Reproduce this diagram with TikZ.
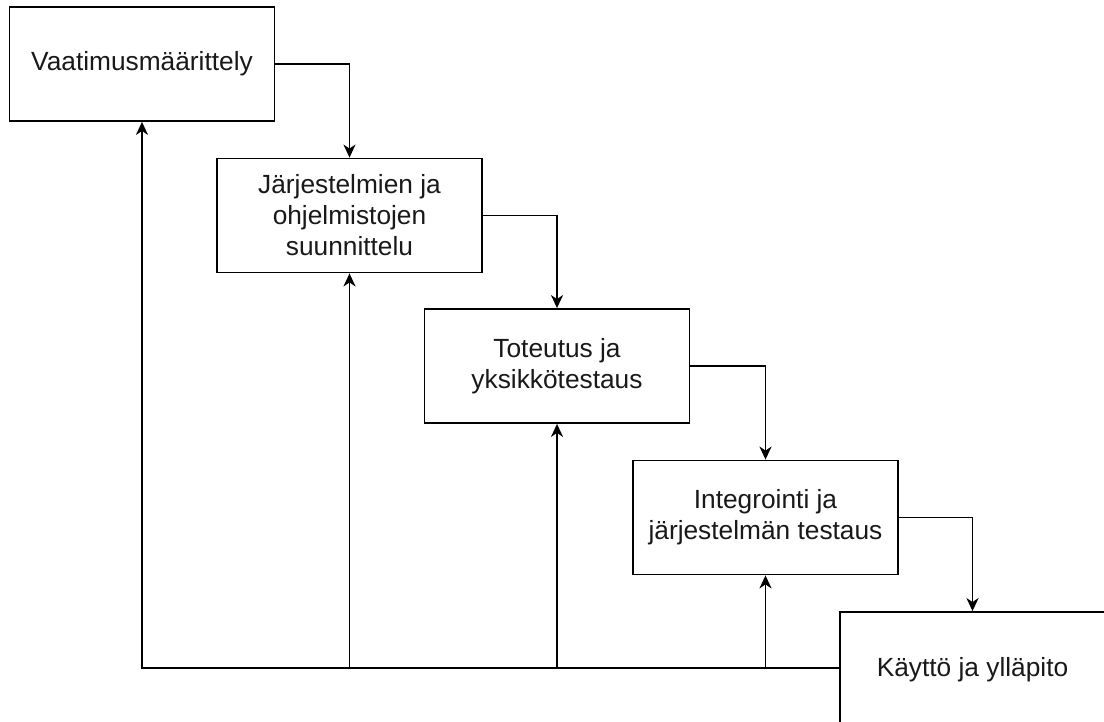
\documentclass[tikz,border=0pt]{standalone}
\usepackage{fontspec}
\setmainfont{Liberation Sans}
\usetikzlibrary{arrows.meta,positioning}
\begin{document}
\begin{tikzpicture}[x=1pt,y=-1pt,
  phase/.style={draw=black,line width=1.8pt,fill=white,minimum width=265pt,minimum height=114pt,
    inner sep=0pt,align=center,font=\fontsize{26.3}{31}\selectfont,text=black!90},
  flow/.style={draw=black,line width=1.8pt,-{Stealth[length=13pt,width=12pt,inset=4pt]}},
  fb/.style={draw=black,line width=1.8pt}]
\useasboundingbox (0,0) rectangle (1104,722);
\clip (0,0) rectangle (1104,722);
\fill[white] (0,0) rectangle (1104,722);
\node[phase] (b1) at (142,64) {Vaatimusmäärittely};
\node[phase] (b2) at (349.5,215.5) {Järjestelmien ja\\ohjelmistojen\\suunnittelu};
\node[phase] (b3) at (557,366) {Toteutus ja\\yksikkötestaus};
\node[phase] (b4) at (765.5,517.5) {Integrointi ja\\järjestelmän testaus};
\node[phase,minimum height=116pt] (b5) at (972.5,670) {Käyttö ja ylläpito};
\draw[flow] (b1.east) -| (b2.north);
\draw[flow] (b2.east) -| (b3.north);
\draw[flow] (b3.east) -| (b4.north);
\draw[flow] (b4.east) -| (b5.north);
\coordinate (j) at ([yshift=2pt]b5.west);
\draw[flow] (j) -| (b1.south);
\draw[flow] (b2.south |- j) -- (b2.south);
\draw[flow] (b3.south |- j) -- (b3.south);
\draw[flow] (b4.south |- j) -- (b4.south);
\end{tikzpicture}
\end{document}
